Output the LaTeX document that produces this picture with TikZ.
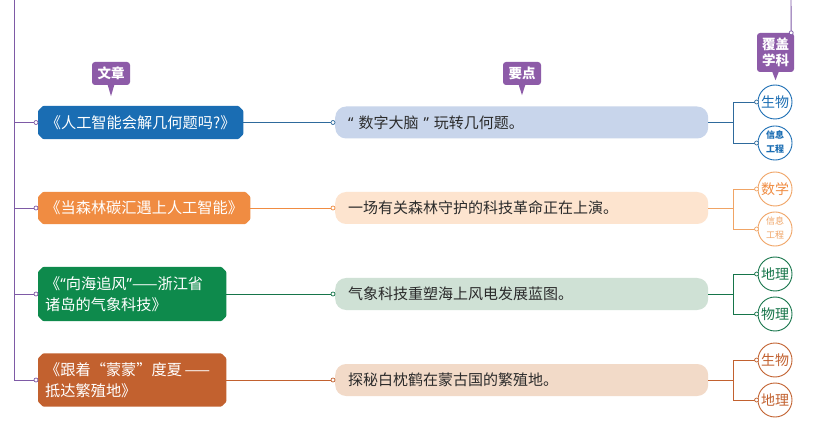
\documentclass[tikz,border=0pt]{standalone}
\usepackage{fontspec}
\newfontfamily\cjk{Noto Sans CJK SC}
\newfontfamily\lat{Noto Sans}
\usetikzlibrary{calc}
\pgfdeclarelayer{background}
\pgfdeclarelayer{canvas}
\pgfsetlayers{canvas,background,main}
\definecolor{cpur}{HTML}{7E5AA6}
\definecolor{cpurbox}{HTML}{8D5BA8}
\definecolor{cblue}{HTML}{1A6DB3}
\definecolor{cbluel}{HTML}{C8D5EB}
\definecolor{cblueln}{HTML}{2E6A9C}
\definecolor{corg}{HTML}{F08C42}
\definecolor{corgl}{HTML}{FDE4CF}
\definecolor{corgc}{HTML}{F0A465}
\definecolor{cgrn}{HTML}{0E8A4C}
\definecolor{cgrnl}{HTML}{CFE1D5}
\definecolor{cgrnc}{HTML}{16754A}
\definecolor{cbrn}{HTML}{C2612F}
\definecolor{cbrnl}{HTML}{F2DAC8}
\definecolor{ctxt}{HTML}{2B2B2B}
\newcommand\chbox[2]{%
  \begin{pgfonlayer}{background}
  \fill[#2, rounded corners=1pt]
    ([xshift=5pt]#1.north west) -- ([xshift=-5pt]#1.north east) --
    ([yshift=-5pt]#1.north east) -- ([yshift=5pt]#1.south east) --
    ([xshift=-5pt]#1.south east) -- ([xshift=5pt]#1.south west) --
    ([yshift=5pt]#1.south west) -- ([yshift=-5pt]#1.north west) -- cycle;
  \end{pgfonlayer}}
\begin{document}
\begin{tikzpicture}[x=1pt,y=-1pt,
  lbox/.style={rectangle, inner xsep=7pt, inner ysep=0pt, align=left, text=white, anchor=west,
    font=\cjk\fontsize{15.2}{21}\selectfont},
  mbox/.style={rectangle, rounded corners=11pt, minimum height=32pt, minimum width=373pt,
    text width=347pt, inner xsep=13pt, inner ysep=0pt, align=left, text=ctxt, anchor=west,
    font=\cjk\fontsize{15}{18}\selectfont},
  subj/.style={circle, draw, fill=white, line width=0.9pt, minimum size=34pt, inner sep=0pt,
    font=\cjk\fontsize{14}{15}\selectfont},
  tag/.style={rectangle, rounded corners=3pt, fill=cpurbox, text=white, inner sep=0pt,
    font=\cjk\bfseries\fontsize{13.5}{16}\selectfont, align=center},
  dot/.style={circle, draw, fill=white, inner sep=0pt, minimum size=4pt, line width=0.7pt},
  conn/.style={line width=0.9pt}
]
\useasboundingbox (0,0) rectangle (821,427);
\begin{pgfonlayer}{canvas}
\fill[white] (0,0) rectangle (821,427);
\end{pgfonlayer}

% left boxes
\node[lbox, minimum width=205pt, minimum height=33pt] (a1) at (38,122.5) {《人工智能会解几何题吗?》};
\chbox{a1}{cblue}
\node[lbox, minimum width=212pt, minimum height=32pt] (a2) at (38,208) {《当森林碳汇遇上人工智能》};
\chbox{a2}{corg}
\node[lbox, minimum width=188pt, text width=174pt, minimum height=54pt] (a3) at (38,294) {《{\lat “}向海追风{\lat ”}——浙江省\\诸岛的气象科技》};
\chbox{a3}{cgrn}
\node[lbox, minimum width=188pt, text width=174pt, minimum height=53pt] (a4) at (38,380) {《跟着“蒙蒙”度夏\,——\\抵达繁殖地》};
\chbox{a4}{cbrn}

% middle boxes
\node[mbox, fill=cbluel] (m1) at (335,122.5) {{\lat “} 数字大脑 {\lat ”} 玩转几何题。};
\node[mbox, fill=corgl] (m2) at (335,208) {一场有关森林守护的科技革命正在上演。};
\node[mbox, fill=cgrnl] (m3) at (335,294) {气象科技重塑海上风电发展蓝图。};
\node[mbox, fill=cbrnl] (m4) at (335,380) {探秘白枕鹤在蒙古国的繁殖地。};

% subject circles
\node[subj, draw=cblue, text=cblue] (s1a) at (775,102) {生物};
\node[subj, draw=cblue, text=cblue] (s1b) at (775,143) {\begin{tabular}{@{}c@{}}\cjk\bfseries\fontsize{9}{10.5}\selectfont 信息\\[-1pt]\cjk\bfseries\fontsize{9}{10.5}\selectfont 工程\end{tabular}};
\node[subj, draw=corgc, text=corg] (s2a) at (775,189) {数学};
\node[subj, draw=corgc, text=corgc] (s2b) at (775,229) {\begin{tabular}{@{}c@{}}\cjk\fontsize{9}{10.5}\selectfont 信息\\[-1pt]\cjk\fontsize{9}{10.5}\selectfont 工程\end{tabular}};
\node[subj, draw=cgrnc, text=cgrnc] (s3a) at (775,274) {地理};
\node[subj, draw=cgrnc, text=cgrnc] (s3b) at (775,314) {物理};
\node[subj, draw=cbrn, text=cbrn] (s4a) at (775,360) {生物};
\node[subj, draw=cbrn, text=cbrn] (s4b) at (775,400) {地理};

% tags
\node[tag, minimum width=38pt, minimum height=23pt] (tw) at (111,73.5) {文章};
\fill[cpurbox] ($(tw.south)+(-3.5,-1)$) -- ($(tw.south)+(3.5,-1)$) -- ($(tw.south)+(0,11)$) -- cycle;
\node[tag, minimum width=38pt, minimum height=23pt] (tp) at (522,73.5) {要点};
\fill[cpurbox] ($(tp.south)+(-3.5,-1)$) -- ($(tp.south)+(3.5,-1)$) -- ($(tp.south)+(0,10)$) -- cycle;
\node[tag, minimum width=37pt, minimum height=39pt] (tv) at (775.5,52.5) {覆盖\\学科};
\fill[cpurbox] ($(tv.south)+(-3.5,-1)$) -- ($(tv.south)+(3.5,-1)$) -- ($(tv.south)+(0,8)$) -- cycle;

% left trunk
\coordinate (ltop) at (14,0);
\coordinate (lb1) at (14,122.5);
\coordinate (lb2) at (14,208);
\coordinate (lb3) at (14,294);
\coordinate (lb4) at (14,380);
\draw[cpur, conn] (ltop) -- (lb4);
\foreach \i in {1,2,3,4} {
  \draw[cpur, conn] (lb\i) -- (a\i.west);
  \node[dot, draw=cpur] at ([xshift=-2pt]a\i.west) {};
}

% top right trunk
\coordinate (rtop) at (791,0);
\draw[cpur, conn] (rtop) -- ([xshift=-3pt]tv.north east);
\node[dot, draw=cpur] at ([xshift=-3pt]tv.north east) {};

% article -> key point
\draw[cblueln, conn] (a1.east) -- (m1.west);
\node[dot, draw=cblueln] at ([xshift=-2pt]m1.west) {};
\draw[corg, conn] (a2.east) -- (m2.west);
\node[dot, draw=corg] at ([xshift=-2pt]m2.west) {};
\draw[cgrnc, conn] (a3.east) -- (m3.west);
\node[dot, draw=cgrnc] at ([xshift=-2pt]m3.west) {};
\draw[cbrn, conn] (a4.east) -- (m4.west);
\node[dot, draw=cbrn] at ([xshift=-2pt]m4.west) {};

% forks
\coordinate (f1) at (733,122.5);
\coordinate (f2) at (733,208);
\coordinate (f3) at (733,294);
\coordinate (f4) at (733,380);
\draw[cblueln, conn] (m1.east) -- (f1);
\draw[cblueln, conn] (s1a.west) -| (f1);
\draw[cblueln, conn] (s1b.west) -| (f1);
\draw[corgc, conn] (m2.east) -- (f2);
\draw[corgc, conn] (s2a.west) -| (f2);
\draw[corgc, conn] (s2b.west) -| (f2);
\draw[cgrnc, conn] (m3.east) -- (f3);
\draw[cgrnc, conn] (s3a.west) -| (f3);
\draw[cgrnc, conn] (s3b.west) -| (f3);
\draw[cbrn, conn] (m4.east) -- (f4);
\draw[cbrn, conn] (s4a.west) -| (f4);
\draw[cbrn, conn] (s4b.west) -| (f4);
\node[dot, draw=cblueln] at ([xshift=-1pt]s1a.west) {};
\node[dot, draw=cblueln] at ([xshift=-1pt]s1b.west) {};
\node[dot, draw=corgc] at ([xshift=-1pt]s2a.west) {};
\node[dot, draw=corgc] at ([xshift=-1pt]s2b.west) {};
\node[dot, draw=cgrnc] at ([xshift=-1pt]s3a.west) {};
\node[dot, draw=cgrnc] at ([xshift=-1pt]s3b.west) {};
\node[dot, draw=cbrn] at ([xshift=-1pt]s4a.west) {};
\node[dot, draw=cbrn] at ([xshift=-1pt]s4b.west) {};
\end{tikzpicture}
\end{document}
